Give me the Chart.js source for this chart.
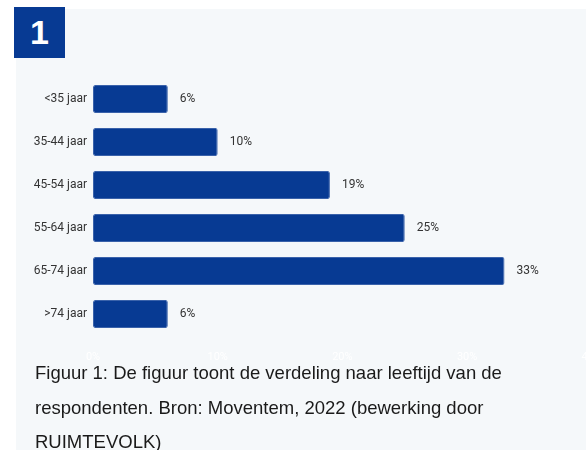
<!DOCTYPE html>
<html>
<head>
<meta charset="utf-8">
<script src="https://cdn.jsdelivr.net/npm/chart.js@4.4.1/dist/chart.umd.min.js"></script>
<style>
  html, body { margin: 0; padding: 0; width: 586px; height: 450px; overflow: hidden; background: #ffffff; }
  #panel { position: absolute; left: 16px; top: 9px; width: 600px; height: 460px; background: #f5f8fa; }
  #badge { position: absolute; left: 14px; top: 7px; width: 51px; height: 51px; background: #073a93; color: #fff;
           font: bold 34px "Liberation Sans", Arial, sans-serif; display: flex; align-items: center; justify-content: center; }
  #wrap { position: absolute; left: 0; top: 0; width: 617px; height: 380px; }
  #caption { position: absolute; left: 35px; top: 356px; width: 520px; font-family: "Liberation Sans", Arial, sans-serif;
             font-size: 18.5px; line-height: 34.5px; color: #1a1a1a; }
</style>
</head>
<body>
<div id="panel"></div>
<div id="wrap"><canvas id="c" width="617" height="380"></canvas></div>
<div id="badge">1</div>
<div id="caption">Figuur 1: De figuur toont de verdeling naar leeftijd van de respondenten. Bron: Moventem, 2022 (bewerking door RUIMTEVOLK)</div>
<script>
const categories = ["<35 jaar", "35-44 jaar", "45-54 jaar", "55-64 jaar", "65-74 jaar", ">74 jaar"];
const values = [6, 10, 19, 25, 33, 6];
const tickValues = [0, 10, 20, 30, 40];

const valueLabels = {
  id: 'valueLabels',
  afterDatasetsDraw(chart) {
    const ctx = chart.ctx;
    const meta = chart.getDatasetMeta(0);
    ctx.save();
    ctx.font = '12px Roboto';
    ctx.fillStyle = '#333333';
    ctx.textAlign = 'left';
    ctx.textBaseline = 'middle';
    meta.data.forEach((bar, i) => {
      ctx.fillText(values[i] + '%', bar.x + 12, bar.y);
    });
    ctx.restore();
  }
};

new Chart(document.getElementById('c'), {
  type: 'bar',
  data: {
    labels: categories,
    datasets: [{
      data: values,
      backgroundColor: '#073a93',
      borderColor: '#3a62aa',
      borderWidth: 1,
      borderRadius: 2,
      borderSkipped: false,
      barPercentage: 0.65,
      categoryPercentage: 1
    }]
  },
  options: {
    indexAxis: 'y',
    responsive: false,
    animation: false,
    devicePixelRatio: 1,
    layout: { padding: { top: 77.5, right: 21, left: 0, bottom: 0 } },
    plugins: { legend: { display: false }, tooltip: { enabled: false } },
    scales: {
      x: {
        min: 0, max: 40,
        afterBuildTicks(scale) { scale.ticks = tickValues.map(v => ({ value: v })); },
        afterFit(scale) { scale.height = 44.5; },
        grid: { display: false, drawTicks: false },
        border: { display: false },
        ticks: { color: '#ffffff', padding: 15, font: { family: 'Roboto', size: 11 }, callback: v => v + '%' }
      },
      y: {
        afterFit(scale) { scale.width = 93; },
        grid: { display: false, drawTicks: false },
        border: { display: false },
        ticks: { color: '#333333', padding: 6, font: { family: 'Roboto', size: 12 } }
      }
    }
  },
  plugins: [valueLabels]
});
</script>
</body>
</html>
